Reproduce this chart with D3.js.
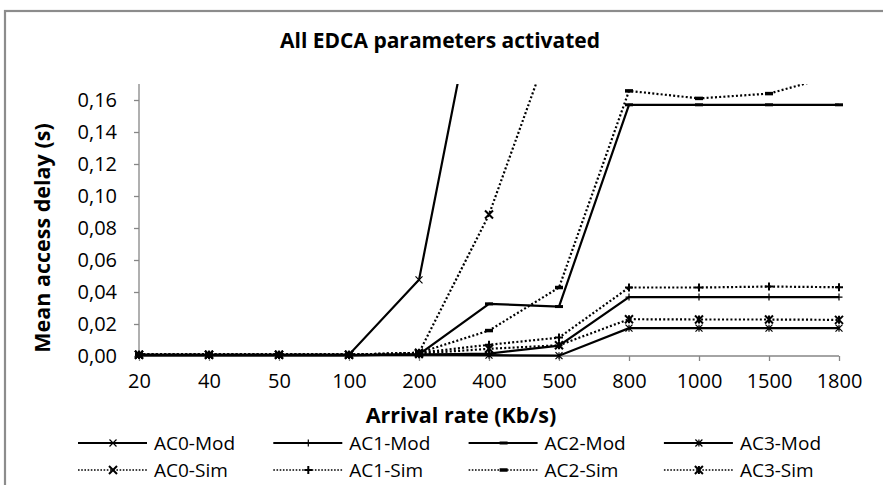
<!DOCTYPE html>
<meta charset="utf-8">
<style>
body {
  margin: 0;
  font-family: "Open Sans", sans-serif;
  background: #fff;
}
.axis path, .axis line {
  stroke: #868686;
  stroke-width: 1.3;
}
.axis text {
  font-family: "Open Sans", sans-serif;
  font-size: 20px;
  fill: #000;
}
.title {
  font-size: 21px;
  font-weight: bold;
}
.axis-title {
  font-size: 21.5px;
  font-weight: bold;
}
.legend text {
  font-size: 19px;
}
</style>
<body>
<script src="https://cdn.jsdelivr.net/npm/d3@7"></script>
<script>

var width = 883,
    height = 485;

var plot = {left: 139, right: 839, top: 84, bottom: 356};

// arrival rate categories (Kb/s)
var categories = ["20", "40", "50", "100", "200", "400", "500", "800", "1000", "1500", "1800"];

// mean access delay (s)
var ac0Mod = [0.0008, 0.0008, 0.0008, 0.0008, 0.0476, 0.27, 0.42, 0.60, 0.70, 0.78, 0.82];
var ac1Mod = [0.0006, 0.0006, 0.0006, 0.0006, 0.0008, 0.0015, 0.0065, 0.0368, 0.0368, 0.0368, 0.0368];
var ac2Mod = [0.0006, 0.0006, 0.0006, 0.0006, 0.0010, 0.0326, 0.0309, 0.1570, 0.1570, 0.1570, 0.1570];
var ac3Mod = [0.0006, 0.0006, 0.0006, 0.0006, 0.0008, 0.0005, 0.0002, 0.0174, 0.0174, 0.0174, 0.0174];
var ac0Sim = [0.0008, 0.0008, 0.0008, 0.0008, 0.0020, 0.0884, 0.21, 0.36, 0.45, 0.52, 0.56];
var ac1Sim = [0.0008, 0.0008, 0.0008, 0.0008, 0.0020, 0.0070, 0.0115, 0.0428, 0.0428, 0.0434, 0.0430];
var ac2Sim = [0.0008, 0.0008, 0.0008, 0.0008, 0.0020, 0.0159, 0.0428, 0.1657, 0.1610, 0.1640, 0.1760];
var ac3Sim = [0.0008, 0.0008, 0.0008, 0.0008, 0.0015, 0.0045, 0.0067, 0.0230, 0.0228, 0.0228, 0.0226];

var yTicks = [0, 0.02, 0.04, 0.06, 0.08, 0.10, 0.12, 0.14, 0.16];

var series = [
  {name: "AC0-Mod", values: ac0Mod, marker: "x", sim: false},
  {name: "AC1-Mod", values: ac1Mod, marker: "plus", sim: false},
  {name: "AC2-Mod", values: ac2Mod, marker: "dash", sim: false},
  {name: "AC3-Mod", values: ac3Mod, marker: "star", sim: false},
  {name: "AC0-Sim", values: ac0Sim, marker: "x", sim: true},
  {name: "AC1-Sim", values: ac1Sim, marker: "plus", sim: true},
  {name: "AC2-Sim", values: ac2Sim, marker: "dash", sim: true},
  {name: "AC3-Sim", values: ac3Sim, marker: "star", sim: true}
];

var comma = d3.formatLocale({decimal: ",", thousands: ".", grouping: [3], currency: ["", ""]});

var x = d3.scalePoint()
    .domain(categories)
    .range([plot.left, plot.right]);

var y = d3.scaleLinear()
    .domain([0, 0.17])
    .range([plot.bottom, plot.top]);

var svg = d3.select("body").append("svg")
    .attr("width", width)
    .attr("height", height);

// outer chart border (runs off the right and bottom edges)
svg.append("rect")
    .attr("x", 5)
    .attr("y", 11)
    .attr("width", 900)
    .attr("height", 500)
    .style("fill", "#fff")
    .style("stroke", "#8c8c8c")
    .style("stroke-width", 2.2);

svg.append("text")
    .attr("class", "title")
    .attr("x", 440)
    .attr("y", 48)
    .attr("text-anchor", "middle")
    .text("All EDCA parameters activated");

svg.append("defs").append("clipPath")
    .attr("id", "clip")
  .append("rect")
    .attr("x", plot.left - 10)
    .attr("y", plot.top)
    .attr("width", plot.right - plot.left + 20)
    .attr("height", plot.bottom - plot.top + 10);

svg.append("g")
    .attr("class", "axis")
    .attr("transform", "translate(" + plot.left + ",0)")
    .call(d3.axisLeft(y).tickValues(yTicks).tickSize(5).tickPadding(17)
      .tickFormat(comma.format(".2f")))
    .call(function(g) { g.select(".domain").attr("d", "M0," + plot.top + "V" + plot.bottom); });

svg.append("g")
    .attr("class", "axis")
    .attr("transform", "translate(0," + plot.bottom + ")")
    .call(d3.axisBottom(x).tickSize(5).tickPadding(13))
    .call(function(g) { g.select(".domain").attr("d", "M" + plot.left + ",0H" + plot.right); });

svg.append("text")
    .attr("class", "axis-title")
    .attr("transform", "translate(50," + 238 + ")rotate(-90)")
    .attr("text-anchor", "middle")
    .text("Mean access delay (s)");

svg.append("text")
    .attr("class", "axis-title")
    .attr("x", 461)
    .attr("y", 423)
    .attr("text-anchor", "middle")
    .text("Arrival rate (Kb/s)");

function markerPath(type, sim) {
  var s = sim ? 4 : 3.5;
  if (type == "x") return "M" + -s + "," + -s + "L" + s + "," + s + "M" + -s + "," + s + "L" + s + "," + -s;
  if (type == "plus") return "M" + -s + ",0H" + s + "M0," + -s + "V" + s;
  if (type == "dash") return "M-4,0H4";
  return "M" + -s + "," + -s + "L" + s + "," + s + "M" + -s + "," + s + "L" + s + "," + -s + "M0," + -s + "V" + s;
}

function markerWidth(d) {
  if (d.marker == "dash") return d.sim ? 3.5 : 3;
  return d.sim ? 2 : 1.2;
}

var line = d3.line()
    .x(function(d, i) { return x(categories[i]); })
    .y(function(d) { return y(d); });

var plotArea = svg.append("g").attr("clip-path", "url(#clip)");

var gSeries = plotArea.selectAll(".series")
    .data(series)
  .enter().append("g")
    .attr("class", "series");

gSeries.append("path")
    .attr("d", function(d) { return line(d.values); })
    .style("fill", "none")
    .style("stroke", "#000")
    .style("stroke-width", 2.2)
    .style("stroke-dasharray", function(d) { return d.sim ? "2,2.2" : null; });

gSeries.selectAll(".marker")
    .data(function(d) { return d.values.map(function(v, i) { return {v: v, i: i, s: d}; }); })
  .enter().append("path")
    .attr("class", "marker")
    .attr("transform", function(d) { return "translate(" + x(categories[d.i]) + "," + y(d.v) + ")"; })
    .attr("d", function(d) { return markerPath(d.s.marker, d.s.sim); })
    .style("fill", "none")
    .style("stroke", "#000")
    .style("stroke-width", function(d) { return markerWidth(d.s); });

// legend: 4 columns, 2 rows
var legend = svg.append("g").attr("class", "legend");

var items = legend.selectAll(".item")
    .data(series)
  .enter().append("g")
    .attr("class", "item")
    .attr("transform", function(d, i) {
      return "translate(" + (78 + (i % 4) * 195.3) + "," + (i < 4 ? 443 : 470) + ")";
    });

items.append("path")
    .attr("d", "M0,0H69")
    .style("stroke", "#000")
    .style("stroke-width", function(d) { return d.sim ? 1.6 : 2.2; })
    .style("stroke-dasharray", function(d) { return d.sim ? "1.6,1.6" : null; });

items.append("path")
    .attr("transform", "translate(35,0)")
    .attr("d", function(d) { return markerPath(d.marker, d.sim); })
    .style("fill", "none")
    .style("stroke", "#000")
    .style("stroke-width", function(d) { return markerWidth(d); });

items.append("text")
    .attr("x", 76)
    .attr("dy", "0.36em")
    .text(function(d) { return d.name; });

</script>
